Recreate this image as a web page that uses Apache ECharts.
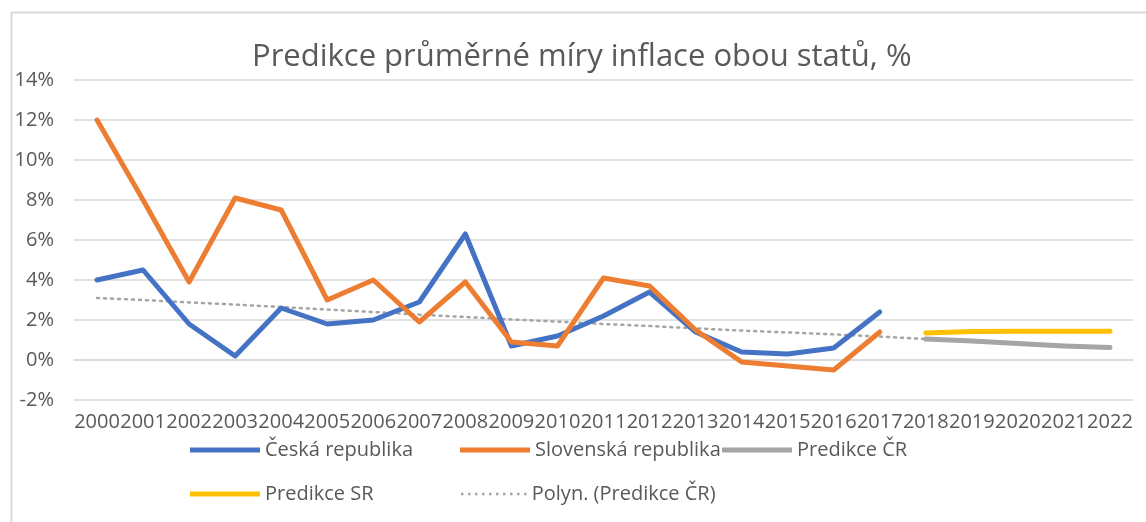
<!DOCTYPE html>
<html>
<head>
<meta charset="utf-8">
<script src="https://cdn.jsdelivr.net/npm/echarts@6/dist/echarts.min.js"></script>
<style>
html,body{margin:0;padding:0;background:#fff;}
#chart{width:1146px;height:522px;}
</style>
</head>
<body>
<div id="chart"></div>
<script>
const titleText = 'Predikce průměrné míry inflace obou statů, %';
const years = ['2000','2001','2002','2003','2004','2005','2006','2007','2008','2009','2010','2011','2012','2013','2014','2015','2016','2017','2018','2019','2020','2021','2022'];
const yTicks = { min: -2, max: 14, interval: 2 };
const seriesNames = ['Česká republika','Slovenská republika','Predikce ČR','Predikce SR','Polyn. (Predikce ČR)'];
const ceskaRepublika = [4.0,4.5,1.8,0.2,2.6,1.8,2.0,2.9,6.3,0.7,1.2,2.2,3.4,1.4,0.4,0.3,0.6,2.4,null,null,null,null,null];
const slovenskaRepublika = [12.0,8.0,3.9,8.1,7.5,3.0,4.0,1.9,3.9,0.9,0.7,4.1,3.7,1.5,-0.1,-0.3,-0.5,1.4,null,null,null,null,null];
const predikceCR = [null,null,null,null,null,null,null,null,null,null,null,null,null,null,null,null,null,null,1.05,0.95,0.82,0.7,0.62];
const predikceSR = [null,null,null,null,null,null,null,null,null,null,null,null,null,null,null,null,null,null,1.35,1.43,1.44,1.44,1.44];
const polynTrend = [3.1,3.0,2.88,2.77,2.65,2.52,2.4,2.27,2.15,2.03,1.92,1.8,1.7,1.58,1.47,1.38,1.28,1.17,1.05,null,null,null,null];

const FONT = 'Open Sans';
const TXT = '#595959';
const colors = ['#4472C4','#ED7D31','#A5A5A5','#FFC000','#A5A5A5'];
const seriesData = [ceskaRepublika, slovenskaRepublika, predikceCR, predikceSR, polynTrend];

// legend icons (style only)
let dotPath = 'path://';
for (let k = 0; k < 10; k++) { dotPath += 'M' + (k * 7) + ',0h2.5v2.5h-2.5z'; }
const solidIcon = 'path://M0,0h70v5h-70z';

const chart = echarts.init(document.getElementById('chart'), null, {renderer:'canvas'});

function mkLegend(name, left, top, dotted) {
  return {
    data: [name], left: left, top: top, padding: 0,
    itemWidth: dotted ? 66 : 70, itemHeight: dotted ? 2.5 : 5, itemGap: 0,
    icon: dotted ? dotPath : solidIcon,
    itemStyle: { borderWidth: 0 },
    textStyle: { fontFamily: FONT, fontSize: 20, color: TXT, padding: [0,0,0,0] },
    selectedMode: false
  };
}

const option = {
  animation: false,
  backgroundColor: '#fff',
  graphic: [{
    type: 'rect', left: 9, top: 10, silent: true,
    shape: { width: 1200, height: 600 },
    style: { fill: 'none', stroke: '#D9D9D9', lineWidth: 2 }
  }],
  title: {
    text: titleText, left: 252, top: 42, padding: 0,
    textStyle: { fontFamily: FONT, fontSize: 31, fontWeight: 'normal', color: TXT }
  },
  legend: [
    mkLegend(seriesNames[0], 190, 440),
    mkLegend(seriesNames[1], 460, 440),
    mkLegend(seriesNames[2], 722, 440),
    mkLegend(seriesNames[3], 190, 484),
    mkLegend(seriesNames[4], 461, 484, true)
  ],
  grid: { left: 74, right: 13, top: 80, bottom: 122, containLabel: false },
  xAxis: {
    type: 'category', data: years, boundaryGap: true,
    axisLine: { show: true, onZero: true, lineStyle: { color: '#D9D9D9', width: 1.5 } },
    axisTick: { show: false },
    axisLabel: { interval: 0, fontFamily: FONT, fontSize: 20, color: TXT, margin: 12 }
  },
  yAxis: {
    type: 'value', min: yTicks.min, max: yTicks.max, interval: yTicks.interval,
    axisLine: { show: false }, axisTick: { show: false },
    axisLabel: { formatter: '{value}%', fontFamily: FONT, fontSize: 20, color: TXT, margin: 20 },
    splitLine: { lineStyle: { color: '#D9D9D9', width: 1.5 } }
  },
  series: seriesNames.map((n, i) => ({
    name: n, type: 'line', data: seriesData[i], symbol: 'none', showSymbol: false,
    connectNulls: false, z: i === 4 ? 1 : 2,
    itemStyle: { color: colors[i] },
    lineStyle: i === 4
      ? { color: colors[i], width: 2.5, type: [2, 5], cap: 'round' }
      : { color: colors[i], width: 5, cap: 'round', join: 'round' }
  }))
};
chart.setOption(option);
</script>
</body>
</html>
